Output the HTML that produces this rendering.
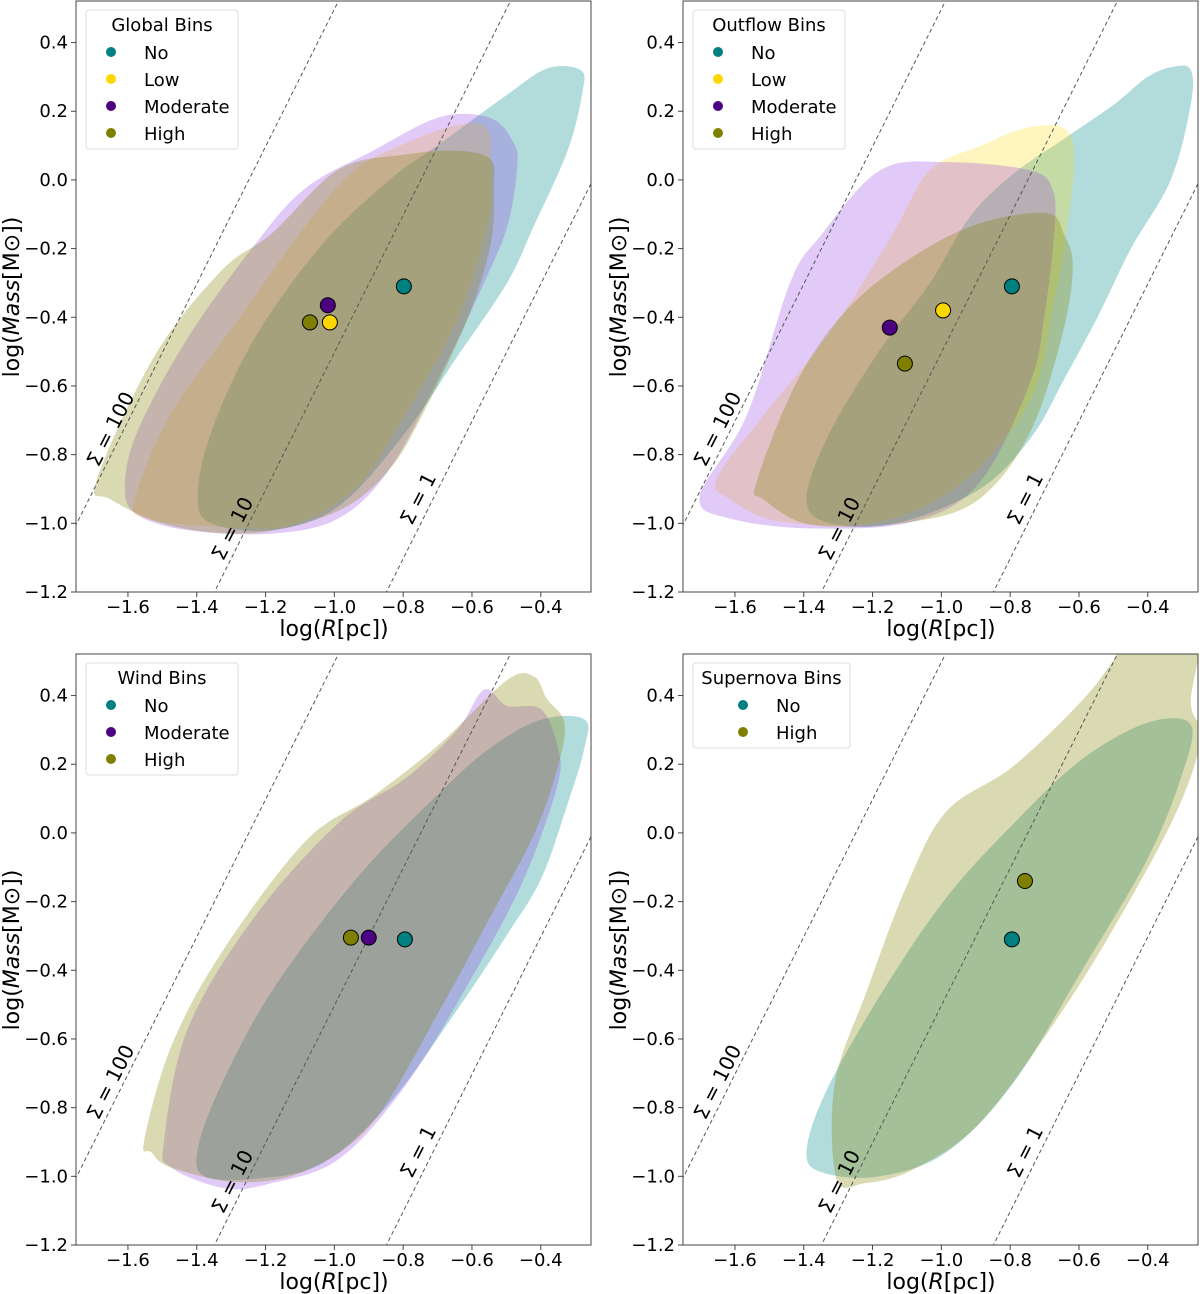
<!DOCTYPE html>
<html><head><meta charset="utf-8"><style>
html,body{margin:0;padding:0;background:#fff;overflow:hidden;width:1200px;height:1294px;}
svg{display:block;}
svg text{font-family:"DejaVu Sans","Liberation Sans",sans-serif;}
</style></head><body>
<svg id="fig" width="1200" height="1294" viewBox="0 0 1200 1294" xmlns="http://www.w3.org/2000/svg"></svg>
<script>
// ---- data ----
const xTicks = [-1.6,-1.4,-1.2,-1.0,-0.8,-0.6,-0.4];
const yTicks = [0.4,0.2,0.0,-0.2,-0.4,-0.6,-0.8,-1.0,-1.2];
const sigmaValues = [100,10,1];
const binColors = {No:"#008080",Low:"#ffd700",Moderate:"#4b0082",High:"#808000"};
const fillColors = {No:"#008b8b",Low:"#ffd700",Moderate:"#8a2be2",High:"#808000"};
const fillAlpha = {No:0.3,Low:0.25,Moderate:0.25,High:0.3};

const panelTitles = ["Global Bins","Outflow Bins","Wind Bins","Supernova Bins"];
const panelBins = [["No","Low","Moderate","High"],["No","Low","Moderate","High"],["No","Moderate","High"],["No","High"]];

const medianX = [[-0.798,-1.013,-1.019,-1.071],[-0.795,-0.995,-1.15,-1.106],[-0.795,-0.9,-0.952],[-0.795,-0.757]];
const medianY = [[-0.31,-0.415,-0.365,-0.415],[-0.31,-0.38,-0.43,-0.535],[-0.31,-0.305,-0.305],[-0.31,-0.14]];

const contours = [
 { High:[[-1.691,-0.875],[-1.524,-0.515],[-1.329,-0.265],[-1.181,-0.155],[-0.987,0.031],[-0.792,0.074],[-0.643,0.085],[-0.546,0.06],[-0.536,-0.024],[-0.546,-0.188],[-0.614,-0.407],[-0.742,-0.68],[-0.840,-0.843],[-0.987,-0.963],[-1.230,-1.028],[-1.475,-1.007],[-1.651,-0.93]],
   Moderate:[[-1.609,-0.897],[-1.573,-0.734],[-1.426,-0.46],[-1.231,-0.188],[-1.084,-0.024],[-0.888,0.085],[-0.693,0.183],[-0.546,0.18],[-0.478,0.106],[-0.469,0.031],[-0.497,-0.134],[-0.565,-0.3],[-0.693,-0.57],[-0.840,-0.843],[-0.987,-0.985],[-1.181,-1.03],[-1.426,-1.02],[-1.573,-0.975]],
   Low:[[-1.580,-0.93],[-1.475,-0.68],[-1.280,-0.407],[-1.084,-0.134],[-0.938,0.031],[-0.792,0.107],[-0.643,0.16],[-0.556,0.15],[-0.546,0.031],[-0.556,-0.134],[-0.643,-0.407],[-0.792,-0.68],[-0.938,-0.897],[-1.133,-1.007],[-1.377,-1.007],[-1.551,-0.985]],
   No:[[-1.397,-0.92],[-1.358,-0.734],[-1.231,-0.46],[-1.036,-0.188],[-0.840,0.0],[-0.693,0.106],[-0.498,0.248],[-0.380,0.325],[-0.283,0.319],[-0.280,0.25],[-0.322,0.085],[-0.420,-0.134],[-0.498,-0.3],[-0.643,-0.515],[-0.792,-0.734],[-0.987,-0.95],[-1.181,-1.02],[-1.358,-1.0]] },
 { Moderate:[[-1.702,-0.92],[-1.566,-0.687],[-1.440,-0.3],[-1.353,-0.165],[-1.178,0.028],[-0.985,0.052],[-0.742,0.028],[-0.676,-0.03],[-0.672,-0.155],[-0.701,-0.4],[-0.742,-0.59],[-0.888,-0.88],[-1.082,-0.995],[-1.373,-1.015],[-1.615,-0.986]],
   Low:[[-1.653,-0.87],[-1.518,-0.687],[-1.324,-0.445],[-1.140,-0.155],[-1.034,0.028],[-0.884,0.1],[-0.759,0.15],[-0.643,0.15],[-0.614,0.05],[-0.643,-0.2],[-0.672,-0.35],[-0.742,-0.64],[-0.938,-0.88],[-1.178,-0.995],[-1.469,-0.995],[-1.615,-0.93]],
   High:[[-1.537,-0.88],[-1.421,-0.59],[-1.275,-0.378],[-1.082,-0.223],[-0.888,-0.126],[-0.693,-0.097],[-0.643,-0.16],[-0.618,-0.252],[-0.647,-0.445],[-0.742,-0.735],[-0.888,-0.928],[-1.082,-0.995],[-1.373,-1.005],[-1.517,-0.93]],
   No:[[-1.392,-0.928],[-1.324,-0.735],[-1.178,-0.494],[-1.033,-0.3],[-0.917,-0.107],[-0.788,0.02],[-0.643,0.12],[-0.498,0.22],[-0.401,0.3],[-0.324,0.33],[-0.275,0.32],[-0.275,0.22],[-0.333,0.0],[-0.449,-0.2],[-0.546,-0.4],[-0.643,-0.58],[-0.739,-0.75],[-0.888,-0.9],[-1.130,-1.0],[-1.324,-1.0]] },
 { High:[[-1.553,-0.897],[-1.475,-0.624],[-1.329,-0.35],[-1.084,-0.024],[-0.888,0.107],[-0.693,0.26],[-0.498,0.445],[-0.419,0.455],[-0.382,0.39],[-0.331,0.32],[-0.351,0.19],[-0.419,-0.003],[-0.546,-0.243],[-0.693,-0.515],[-0.888,-0.842],[-1.084,-0.984],[-1.280,-1.017],[-1.475,-0.974],[-1.532,-0.93]],
   Moderate:[[-1.495,-0.897],[-1.426,-0.57],[-1.231,-0.243],[-0.987,0.03],[-0.792,0.16],[-0.643,0.3],[-0.565,0.417],[-0.498,0.37],[-0.399,0.36],[-0.351,0.25],[-0.351,0.14],[-0.449,-0.134],[-0.594,-0.41],[-0.792,-0.734],[-0.987,-0.95],[-1.184,-1.02],[-1.319,-1.035],[-1.475,-0.974]],
   No:[[-1.397,-0.92],[-1.329,-0.734],[-1.182,-0.461],[-0.937,-0.134],[-0.693,0.118],[-0.546,0.248],[-0.399,0.33],[-0.272,0.33],[-0.275,0.24],[-0.322,0.085],[-0.399,-0.134],[-0.498,-0.296],[-0.643,-0.515],[-0.840,-0.788],[-1.036,-0.963],[-1.231,-1.007],[-1.377,-1.0]] },
 { High:[[-1.305,-1.007],[-1.310,-0.73],[-1.217,-0.461],[-1.101,-0.155],[-0.985,0.063],[-0.792,0.193],[-0.597,0.379],[-0.501,0.5],[-0.449,0.58],[-0.256,0.6],[-0.275,0.38],[-0.246,0.28],[-0.306,0.085],[-0.449,-0.19],[-0.643,-0.51],[-0.884,-0.84],[-1.082,-0.98],[-1.223,-1.02]],
   No:[[-1.392,-0.93],[-1.334,-0.75],[-1.170,-0.46],[-0.985,-0.188],[-0.792,0.025],[-0.597,0.21],[-0.403,0.32],[-0.275,0.315],[-0.304,0.16],[-0.403,-0.08],[-0.597,-0.41],[-0.792,-0.73],[-0.985,-0.93],[-1.178,-1.0],[-1.343,-0.99]] }
];
const sigmaLabelX = [-1.651,-1.297,-0.757];
const sigmaLabelY = [-0.725,-1.015,-0.928];

// ---- layout ----
const panels = [{l:76,t:1},{l:683,t:1},{l:76,t:654},{l:683,t:654}];
const PW = 515, PH = 591;
const X0 = -1.751, X1 = -0.254, Y0 = -1.2, Y1 = 0.521;
const NS = "http://www.w3.org/2000/svg";
const svg = document.getElementById('fig');
function mk(tag, attrs, parent){const e=document.createElementNS(NS,tag);for(const k in attrs)e.setAttribute(k,attrs[k]);(parent||svg).appendChild(e);return e;}
function smooth(pts){
  const n=pts.length;let d=`M${pts[0][0]},${pts[0][1]}`;
  for(let i=0;i<n;i++){const p0=pts[(i-1+n)%n],p1=pts[i],p2=pts[(i+1)%n],p3=pts[(i+2)%n];
    const c1=[p1[0]+(p2[0]-p0[0])/6,p1[1]+(p2[1]-p0[1])/6],c2=[p2[0]-(p3[0]-p1[0])/6,p2[1]-(p3[1]-p1[1])/6];
    d+=`C${c1[0].toFixed(1)},${c1[1].toFixed(1)} ${c2[0].toFixed(1)},${c2[1].toFixed(1)} ${p2[0].toFixed(1)},${p2[1].toFixed(1)}`;}
  return d+'Z';
}

panels.forEach((P,pi)=>{
  const sx = v => P.l + (v - X0)/(X1 - X0)*PW;
  const sy = v => P.t + (Y1 - v)/(Y1 - Y0)*PH;
  const g = mk('g',{});
  
  
  const cp = mk('clipPath',{id:'clip'+pi},g);
  mk('rect',{x:P.l,y:P.t,width:PW,height:PH},cp);
  const plot = mk('g',{'clip-path':`url(#clip${pi})`},g);
  panelBins[pi].forEach(bin=>{
    const pts = contours[pi][bin].map(p=>[sx(p[0]),sy(p[1])]);
    const path = mk('path',{d:smooth(pts),fill:fillColors[bin],'fill-opacity':fillAlpha[bin],stroke:'none'},plot);
    
    
  });
  sigmaValues.forEach((s,si)=>{
    const c = Math.log10(Math.PI*s);
    const ln = mk('line',{x1:sx(-2),y1:sy(c-4),x2:sx(0),y2:sy(c),stroke:'#555','stroke-width':1,'stroke-dasharray':'4,3'},plot);
    
    
    const lx = sx(sigmaLabelX[si]), ly = sy(sigmaLabelY[si]);
    const t = mk('text',{x:lx,y:ly+7,'font-size':20,'text-anchor':'middle',transform:`rotate(-63 ${lx} ${ly})`},g);
    t.textContent = 'Σ = '+s;
    
    
  });
  panelBins[pi].forEach((bin,bi)=>{
    const c = mk('circle',{cx:sx(medianX[pi][bi]),cy:sy(medianY[pi][bi]),r:7.5,fill:binColors[bin],stroke:'#000','stroke-width':1},g);
    
    
  });
  const fr = mk('rect',{x:P.l,y:P.t,width:PW,height:PH,fill:'none',stroke:'#444','stroke-width':1},g);
  
  
  xTicks.forEach(v=>{
    mk('line',{x1:sx(v),y1:P.t+PH,x2:sx(v),y2:P.t+PH+5,stroke:'#444'},g);
    const t = mk('text',{x:sx(v),y:P.t+PH+21,'font-size':18,'text-anchor':'middle'},g);
    t.textContent = (v<0?'\u2212':'')+Math.abs(v).toFixed(1);
    
    
  });
  yTicks.forEach(v=>{
    mk('line',{x1:P.l-5,y1:sy(v),x2:P.l,y2:sy(v),stroke:'#444'},g);
    const t = mk('text',{x:P.l-8,y:sy(v)+6,'font-size':18,'text-anchor':'end'},g);
    t.textContent = (v<0?'\u2212':'')+Math.abs(v).toFixed(1);
    
    
  });
  const xl = mk('text',{x:P.l+258,y:P.t+PH+44,'font-size':22,'text-anchor':'middle'},g);
  xl.innerHTML = 'log(<tspan font-style="italic">R</tspan>[pc])';
  
  
  const yx = P.l-57, yy = P.t+296;
  const yl = mk('text',{x:yx,y:yy,'font-size':22,'text-anchor':'middle',transform:`rotate(-90 ${yx} ${yy})`},g);
  yl.innerHTML = 'log(<tspan font-style="italic">Mass</tspan>[M⊙])';
  
  
  const nb = panelBins[pi].length;
  const lw = pi===3?157:152, lh = 31+27*nb;
  const lg = mk('g',{},g);
  
  
  mk('rect',{x:P.l+10,y:P.t+9,width:lw,height:lh,rx:3,fill:'#fff','fill-opacity':0.8,stroke:'#ddd'},lg);
  const tt = mk('text',{x:P.l+10+lw/2,y:P.t+30,'font-size':18,'text-anchor':'middle'},lg);
  tt.textContent = panelTitles[pi];
  
  
  panelBins[pi].forEach((bin,bi)=>{
    const yy2 = P.t+51+27*bi;
    const mx = pi===3 ? P.l+60 : P.l+35;
    const m = mk('circle',{cx:mx,cy:yy2,r:5,fill:binColors[bin]},lg);
    
    
    const t = mk('text',{x:mx+33,y:yy2+7,'font-size':18},lg);
    t.textContent = bin;
    
    
  });
});
</script>
</body></html>
